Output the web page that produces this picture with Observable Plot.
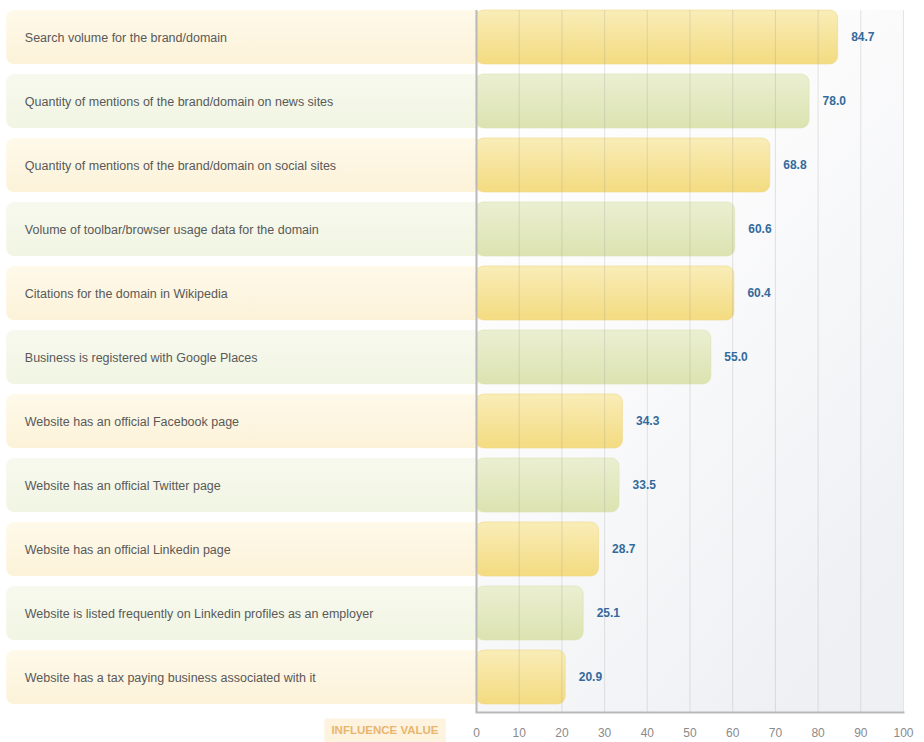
<!DOCTYPE html>
<html>
<head>
<meta charset="utf-8">
<script src="https://cdn.jsdelivr.net/npm/d3@7"></script>
<script src="https://cdn.jsdelivr.net/npm/@observablehq/plot@0.6"></script>
<style>
  html, body { margin: 0; padding: 0; background: #fff; overflow: hidden; }
</style>
</head>
<body>
<div id="chart"></div>
<script>
const categories = [
  "Search volume for the brand/domain",
  "Quantity of mentions of the brand/domain on news sites",
  "Quantity of mentions of the brand/domain on social sites",
  "Volume of toolbar/browser usage data for the domain",
  "Citations for the domain in Wikipedia",
  "Business is registered with Google Places",
  "Website has an official Facebook page",
  "Website has an official Twitter page",
  "Website has an official Linkedin page",
  "Website is listed frequently on Linkedin profiles as an employer",
  "Website has a tax paying business associated with it"
];
const values = [84.7, 78.0, 68.8, 60.6, 60.4, 55.0, 34.3, 33.5, 28.7, 25.1, 20.9];
const tickValues = [0, 10, 20, 30, 40, 50, 60, 70, 80, 90, 100];
const axisTitle = "INFLUENCE VALUE";

const data = categories.map((label, i) => ({label, value: values[i], tone: i % 2 === 0 ? "yellow" : "green"}));

const LABEL_LEFT = -110; // label panels extend into the left margin (x units)

const svg = Plot.plot({
  width: 924,
  height: 742,
  marginLeft: 476,
  marginRight: 21,
  marginTop: 10,
  marginBottom: 30,
  style: {fontFamily: "'Liberation Sans', Arial, sans-serif", fontSize: "12px", background: "white", overflow: "visible"},
  x: {domain: [0, 100], axis: null},
  y: {domain: categories, axis: null, paddingInner: 0.16, paddingOuter: 0.0625, align: 0},
  marks: [
    Plot.rect([0], {x1: 0, x2: 100, fill: "url(#bgGrad)"}),
    Plot.barX(data, {filter: d => d.tone === "yellow", x1: LABEL_LEFT, x2: 2, y: "label", fill: "url(#boxYellow)", rx: 8}),
    Plot.barX(data, {filter: d => d.tone === "green", x1: LABEL_LEFT, x2: 2, y: "label", fill: "url(#boxGreen)", rx: 8}),
    Plot.barX(data, {filter: d => d.tone === "yellow", x: "value", y: "label", fill: "url(#barYellow)", stroke: "#efd98a", strokeOpacity: 0.6, rx: 8}),
    Plot.barX(data, {filter: d => d.tone === "green", x: "value", y: "label", fill: "url(#barGreen)", stroke: "#dbe2b0", strokeOpacity: 0.6, rx: 8}),
    Plot.ruleX(tickValues.filter(t => t > 0), {stroke: "#888", strokeOpacity: 0.22}),
    Plot.ruleX([0], {stroke: "#b9b9b9", strokeWidth: 2}),
    Plot.frame({anchor: "bottom", stroke: "#b9b9b9", strokeWidth: 2}),
    Plot.axisX(tickValues, {tickSize: 0, tickPadding: 16, fill: "#8a8a8a", fontSize: 12, label: null}),
    Plot.text(data, {x: LABEL_LEFT, y: "label", text: "label", dx: 18, textAnchor: "start", fill: "#595959", fontSize: 12.5}),
    Plot.text(data, {x: "value", y: "label", text: d => d.value.toFixed(1), dx: 13, textAnchor: "start", fill: "#336a9c", fontWeight: "bold", fontSize: 12}),
    Plot.text([axisTitle], {x: 0, frameAnchor: "bottom", text: d => d, dx: -38, dy: 21, textAnchor: "end", fill: "#e9b56c", fontWeight: "bold", fontSize: 11.5})
  ]
});

document.getElementById("chart").appendChild(svg);

// gradient definitions (styles)
const defs = d3.select(svg).insert("defs", ":first-child");
function grad(id, stops, dir = [0, 0, 0, 1]) {
  const g = defs.append("linearGradient").attr("id", id)
    .attr("x1", dir[0]).attr("y1", dir[1]).attr("x2", dir[2]).attr("y2", dir[3]);
  stops.forEach(([o, c]) => g.append("stop").attr("offset", o).attr("stop-color", c));
}
grad("bgGrad", [[0, "#ffffff"], [0.45, "#fbfbfc"], [1, "#eef0f3"]], [0, 0, 0.7, 1]);
grad("barYellow", [[0, "#f9edb8"], [1, "#f3db80"]]);
grad("barGreen", [[0, "#ebefd2"], [1, "#dce3b0"]]);
grad("boxYellow", [[0, "#fef9ea"], [1, "#fcf2d8"]]);
grad("boxGreen", [[0, "#f7f9ee"], [1, "#f1f5e2"]]);

// background pill behind the axis title (same local transform as the text)
d3.select(svg).selectAll("text").filter(function() { return this.textContent === axisTitle; }).each(function() {
  const b = this.getBBox();
  d3.select(this.parentNode).insert("rect", ":first-child")
    .attr("transform", this.getAttribute("transform"))
    .attr("x", b.x - 7).attr("y", b.y - 5)
    .attr("width", b.width + 14).attr("height", b.height + 14)
    .attr("rx", 2).attr("fill", "#fdf3df");
});
</script>
</body>
</html>
